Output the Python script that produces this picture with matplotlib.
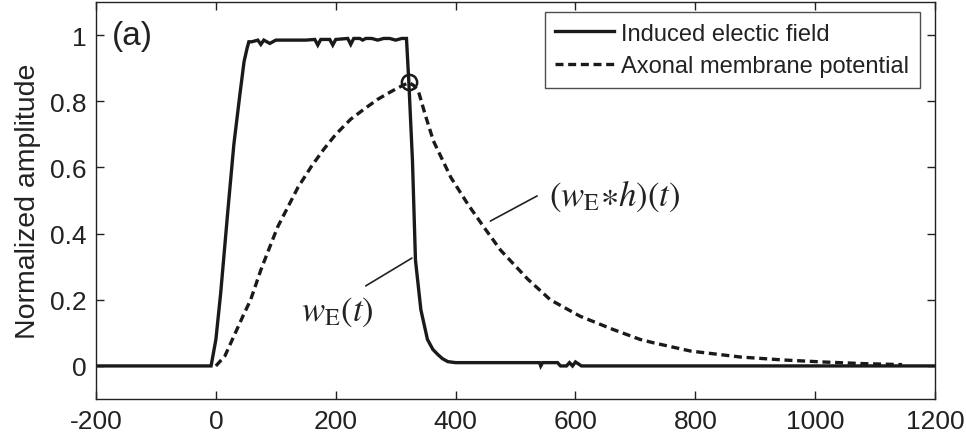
import numpy as np
import matplotlib
matplotlib.use('Agg')
import matplotlib.pyplot as plt

# induced electric field w_E(t), normalized
t_field = [-200, -8, 0, 8, 20, 30, 40, 47, 52, 55, 60, 70, 75, 80, 90, 100, 110,
           130, 150, 165, 170, 175, 190, 195, 200, 220, 225, 230, 240, 245, 250,
           260, 270, 280, 290, 300, 310, 318, 322, 328, 333, 342, 353, 362, 370,
           378, 387, 400, 540, 542, 545, 570, 575, 585, 590, 595, 600, 610, 1200]
v_field = [0, 0, 0.08, 0.22, 0.47, 0.67, 0.82, 0.92, 0.96, 0.98, 0.98, 0.985, 0.972,
           0.985, 0.975, 0.985, 0.985, 0.985, 0.985, 0.987, 0.97, 0.987, 0.987,
           0.97, 0.987, 0.99, 0.972, 0.99, 0.99, 0.985, 0.99, 0.99, 0.985, 0.99,
           0.99, 0.985, 0.99, 0.99, 0.856, 0.62, 0.32, 0.17, 0.08, 0.05, 0.035,
           0.022, 0.013, 0.01, 0.01, 0.0, 0.01, 0.01, 0.0, 0.0, 0.01, 0.0, 0.012,
           0.0, 0.0]

# axonal membrane potential (w_E * h)(t), normalized
t_memb = [0, 15, 30, 45, 58, 75, 90, 103, 120, 137, 160, 180, 200, 225, 250, 270,
          290, 303, 322, 330, 338, 350, 363, 392, 420, 447, 475, 520, 558, 608,
          663, 708, 730, 792, 875, 947, 1013, 1080, 1145]
v_memb = [0.0, 0.03, 0.09, 0.15, 0.2, 0.29, 0.36, 0.42, 0.48, 0.54, 0.605, 0.655,
          0.70, 0.746, 0.78, 0.806, 0.827, 0.84, 0.857, 0.848, 0.83, 0.755, 0.68,
          0.57, 0.49, 0.42, 0.35, 0.263, 0.2, 0.15, 0.11, 0.08, 0.07, 0.045,
          0.027, 0.018, 0.012, 0.007, 0.004]

xticks = [-200, 0, 200, 400, 600, 800, 1000, 1200]
yticks = [0, 0.2, 0.4, 0.6, 0.8, 1]

plt.rcParams['font.family'] = ['Liberation Sans', 'DejaVu Sans']
plt.rcParams['mathtext.fontset'] = 'stix'
plt.rcParams['axes.unicode_minus'] = False

ink = '#222222'
fig = plt.figure(figsize=(9.66, 4.39), dpi=100)
ax = fig.add_axes([0.0994, 0.0888, 0.8686, 0.9042])

ax.plot(t_field, v_field, color='#1a1a1a', lw=2.4, solid_joinstyle='miter',
        label='Induced electic field')
ax.plot(t_memb, v_memb, color='#1a1a1a', lw=2.4, dashes=(2.4, 1.4),
        label='Axonal membrane potential')

# mark the peak of the membrane potential
ipk = int(np.argmax(v_memb))
ax.plot([t_memb[ipk]], [v_memb[ipk]], 'o', ms=11, mfc='none', mec='#1a1a1a', mew=1.8)

ax.set_xlim(-200, 1200)
ax.set_ylim(-0.1, 1.1)
ax.set_xticks(xticks)
ax.set_yticks(yticks)
ax.set_yticklabels(['0', '0.2', '0.4', '0.6', '0.8', '1'])
ax.tick_params(direction='in', top=True, right=True, length=6, width=1,
               labelsize=19, pad=7, colors=ink)
for s in ax.spines.values():
    s.set_linewidth(1.0)
    s.set_color(ink)
ax.set_ylabel('Normalized amplitude', fontsize=20.5, color=ink, labelpad=6)

ax.text(-174, 1.0, '(a)', fontsize=24, va='center', ha='left', color=ink)

# curve labels with short leader lines
ax.text(203, 0.165, r'$w_{\mathrm{E}}(t)$', fontsize=25, ha='center', va='center',
        color=ink)
ax.annotate('', xy=(327, 0.326), xytext=(250, 0.242),
            arrowprops=dict(arrowstyle='-', color=ink, lw=1.2, shrinkA=0, shrinkB=0))
ax.text(665, 0.515, r'$(w_{\mathrm{E}}{\ast}h)(t)$', fontsize=25, ha='center',
        va='center', color=ink)
ax.annotate('', xy=(458, 0.438), xytext=(536, 0.514),
            arrowprops=dict(arrowstyle='-', color=ink, lw=1.2, shrinkA=0, shrinkB=0))

leg = ax.legend(loc='upper right', bbox_to_anchor=(0.982, 0.975), fontsize=17,
                frameon=True, fancybox=False, edgecolor=ink,
                handlelength=2.5, handletextpad=0.3, borderpad=0.45,
                labelspacing=0.45, borderaxespad=0)
leg.get_frame().set_linewidth(1.0)
for txt in leg.get_texts():
    txt.set_color(ink)

fig.savefig('out.png', dpi=100)
